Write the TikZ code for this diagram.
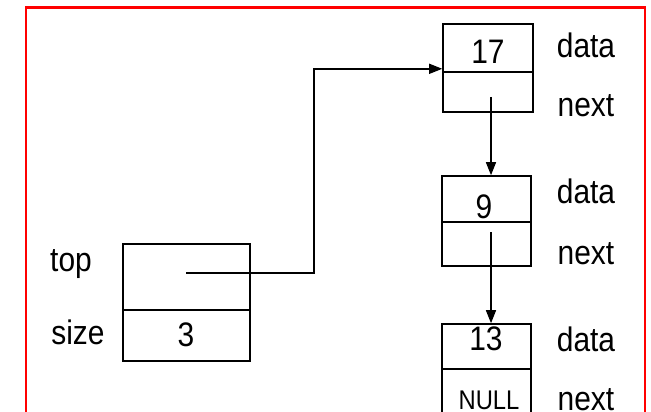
\documentclass[tikz,border=0pt]{standalone}
\usepackage{fontspec}
\setmainfont{Liberation Sans}[FakeStretch=0.88]
\usetikzlibrary{arrows.meta}
\begin{document}
\begin{tikzpicture}[x=1pt,y=-1pt,
  cell/.style={draw,line width=1.6pt,inner sep=0pt,anchor=center},
  lbl/.style={inner sep=0pt,font=\fontsize{34}{36}\selectfont},
  nul/.style={inner sep=0pt,font=\fontsize{27}{29}\selectfont},
  arr/.style={line width=1.5pt,-{Triangle[length=13pt,width=10pt]}},
  frame/.style={draw=red,line width=2.2pt}]
\useasboundingbox (0,0) rectangle (651,412);
% frame
\draw[frame] (26,420) -- (26,7.5) -- (645,7.5) -- (645,420);
% node 1
\node[cell,minimum width=90pt,minimum height=48pt] (n1d) at (488,48) {};
\node[cell,minimum width=90pt,minimum height=40pt] (n1n) at (488,92) {};
\node[lbl] (v17) at (488,52) {17};
\node[lbl] (l1d) at (586,45) {data};
\node[lbl] (l1n) at (586,106) {next};
% node 2
\node[cell,minimum width=89pt,minimum height=46pt] (n2d) at (486.5,199) {};
\node[cell,minimum width=89pt,minimum height=44pt] (n2n) at (486.5,244) {};
\node[lbl] (v9) at (484,207) {9};
\node[lbl] (l2d) at (586,191) {data};
\node[lbl] (l2n) at (586,254) {next};
% node 3
\node[cell,minimum width=89pt,minimum height=45pt] (n3d) at (486.5,346.5) {};
\node[cell,minimum width=89pt,minimum height=46pt] (n3n) at (486.5,392) {};
\node[lbl] (v13) at (486,339) {13};
\node[nul] (vnull) at (489,400) {NULL};
\node[lbl] (l3d) at (586,339) {data};
\node[lbl] (l3n) at (586,400) {next};
% stack box
\node[cell,minimum width=127pt,minimum height=66pt] (st) at (186.5,277) {};
\node[cell,minimum width=127pt,minimum height=51pt] (ss) at (186.5,335.5) {};
\node[lbl] (v3) at (186,335) {3};
\node[lbl] (ltop) at (71,264) {top};
\node[lbl] (lsize) at (78,332) {size};
% connectors
\coordinate (tp) at (186,273);
\coordinate (p1) at (491,97);
\coordinate (p2) at (491,232);
\draw[arr] (tp) -- (314,273) |- ([yshift=4pt]n1d.south west);
\draw[arr] (p1) -- (p1 |- n2d.north);
\draw[arr] (p2) -- (p2 |- n3d.north);
\end{tikzpicture}
\end{document}
